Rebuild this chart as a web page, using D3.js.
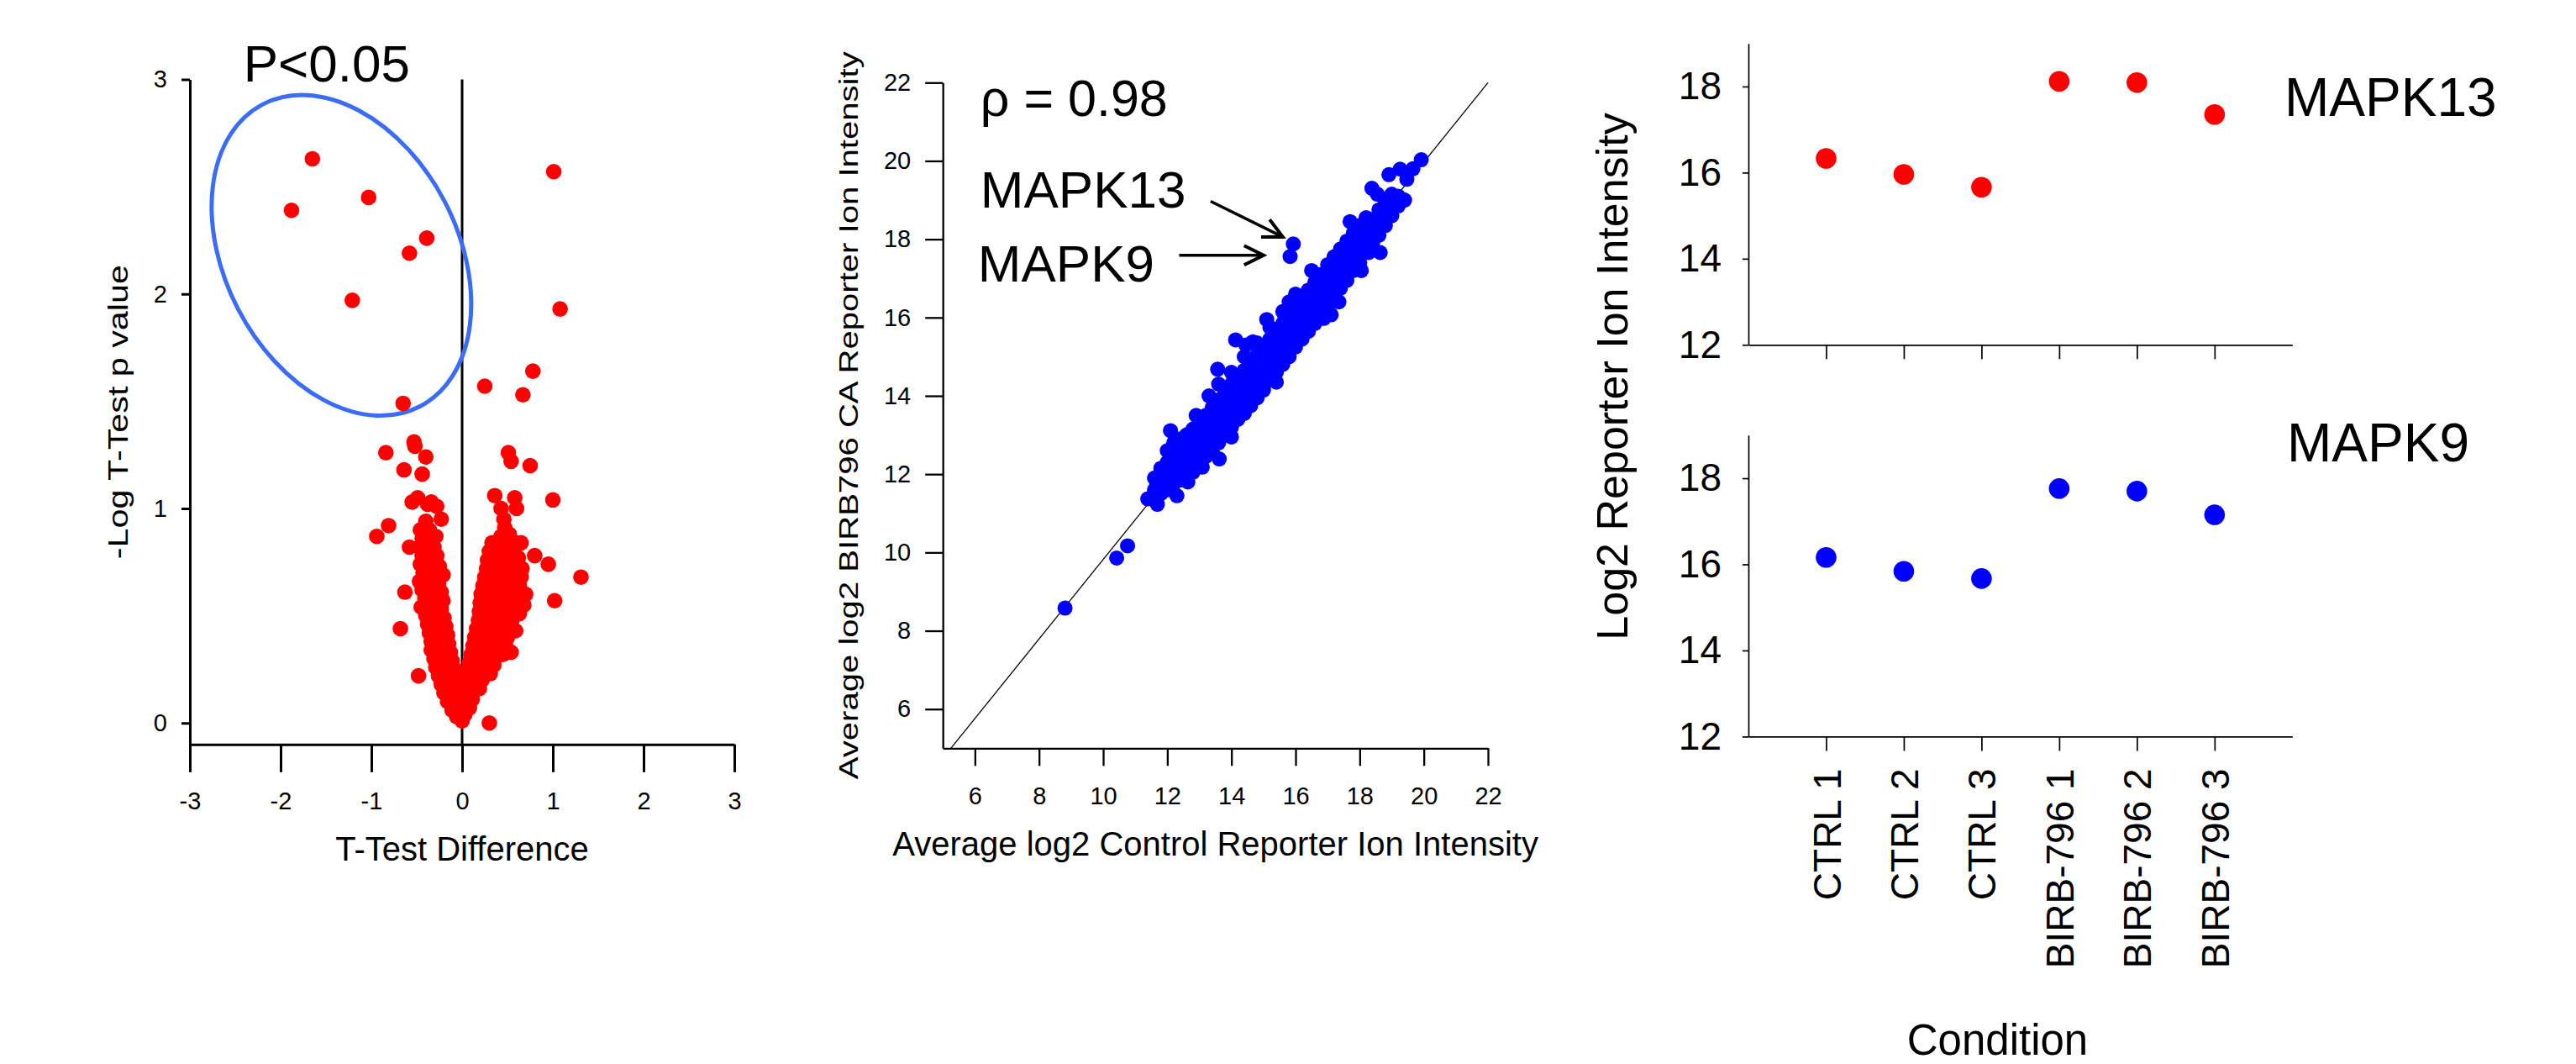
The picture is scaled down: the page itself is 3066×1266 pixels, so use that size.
<!DOCTYPE html>
<html>
<head>
<meta charset="utf-8">
<script src="https://cdn.jsdelivr.net/npm/d3@7"></script>
<style>
    html, body { margin: 0; padding: 0; background: #fff; }
    svg { display: block; font-family: "Liberation Sans", Arial, sans-serif; }
</style>
</head>
<body>
<div id="figure"></div>
<script>
    // ---- panel A: volcano plot, [T-test difference, -log p]
    var volcanoPoints = [
        // outliers
        [-1.65, 2.63], [-1.88, 2.39], [-1.03, 2.45], [-0.39, 2.26], [-0.58, 2.19], [-1.21, 1.97], [-0.65, 1.49],
        [1.01, 2.57], [1.08, 1.93], [0.25, 1.57], [0.78, 1.64], [0.67, 1.53],
        [-0.53, 1.31], [-0.52, 1.29], [-0.84, 1.26], [-0.40, 1.24], [-0.64, 1.18], [-0.44, 1.16],
        [0.51, 1.26], [0.54, 1.22], [0.75, 1.20],
        [0.36, 1.06], [0.58, 1.05], [0.60, 1.00], [1.00, 1.04],
        [-0.55, 1.03], [-0.49, 1.05], [-0.38, 1.02], [-0.34, 1.03], [-0.28, 1.01], [-0.23, 0.95], [-0.40, 0.94],
        [-0.81, 0.92], [-0.94, 0.87], [-0.58, 0.82],
        [0.80, 0.78], [0.95, 0.74], [1.31, 0.68], [1.02, 0.57],
        [-0.68, 0.44], [-0.48, 0.22], [0.30, 0.00],
        [0.63, 0.51], [0.54, 0.33], [0.59, 0.43], [0.70, 0.60], [0.65, 0.84],
        // left arm
        [-0.46, 0.90], [-0.36, 0.90], [-0.44, 0.86], [-0.34, 0.86], [-0.29, 0.87],
        [-0.47, 0.82], [-0.40, 0.81], [-0.31, 0.82], [-0.44, 0.78], [-0.36, 0.77], [-0.28, 0.78],
        [-0.46, 0.74], [-0.39, 0.73], [-0.31, 0.74], [-0.25, 0.73],
        [-0.43, 0.70], [-0.35, 0.69], [-0.27, 0.70], [-0.21, 0.69],
        [-0.47, 0.66], [-0.40, 0.65], [-0.32, 0.66], [-0.26, 0.65],
        [-0.44, 0.62], [-0.36, 0.61], [-0.29, 0.62], [-0.23, 0.61],
        [-0.63, 0.61], [-0.41, 0.58], [-0.33, 0.57], [-0.26, 0.58], [-0.21, 0.57],
        [-0.45, 0.54], [-0.37, 0.53], [-0.30, 0.54], [-0.23, 0.53],
        [-0.40, 0.50], [-0.33, 0.49], [-0.26, 0.50], [-0.20, 0.49],
        [-0.38, 0.46], [-0.30, 0.45], [-0.23, 0.46], [-0.18, 0.45],
        [-0.36, 0.42], [-0.28, 0.41], [-0.21, 0.42], [-0.16, 0.41],
        [-0.34, 0.38], [-0.27, 0.37], [-0.20, 0.38], [-0.15, 0.37],
        [-0.34, 0.34], [-0.26, 0.33], [-0.19, 0.34], [-0.13, 0.33],
        [-0.31, 0.30], [-0.24, 0.29], [-0.17, 0.30], [-0.11, 0.29],
        [-0.29, 0.26], [-0.22, 0.25], [-0.15, 0.26], [-0.08, 0.25],
        [-0.26, 0.22], [-0.19, 0.21], [-0.12, 0.22], [-0.06, 0.21],
        [-0.23, 0.18], [-0.16, 0.17], [-0.10, 0.18], [-0.04, 0.17],
        [-0.20, 0.14], [-0.13, 0.13], [-0.07, 0.14], [-0.02, 0.13],
        [-0.16, 0.10], [-0.10, 0.09], [-0.05, 0.10],
        [-0.11, 0.06], [-0.06, 0.05], [-0.02, 0.06], [-0.06, 0.03], [-0.01, 0.02],
        // right arm
        [0.43, 1.00], [0.46, 0.95], [0.47, 0.91], [0.43, 0.87], [0.52, 0.88],
        [0.33, 0.84], [0.41, 0.84], [0.50, 0.85], [0.60, 0.84],
        [0.30, 0.80], [0.38, 0.80], [0.47, 0.79], [0.56, 0.80],
        [0.28, 0.76], [0.36, 0.76], [0.44, 0.75], [0.53, 0.76], [0.62, 0.77],
        [0.27, 0.72], [0.34, 0.72], [0.42, 0.71], [0.50, 0.72], [0.59, 0.71], [0.66, 0.72],
        [0.25, 0.68], [0.32, 0.68], [0.40, 0.67], [0.48, 0.68], [0.57, 0.67], [0.65, 0.68],
        [0.23, 0.64], [0.30, 0.64], [0.38, 0.63], [0.46, 0.64], [0.55, 0.63], [0.63, 0.64],
        [0.21, 0.60], [0.28, 0.60], [0.36, 0.59], [0.44, 0.60], [0.52, 0.59], [0.61, 0.60],
        [0.20, 0.56], [0.27, 0.56], [0.35, 0.55], [0.43, 0.56], [0.51, 0.55], [0.59, 0.56], [0.68, 0.55],
        [0.19, 0.52], [0.26, 0.52], [0.33, 0.51], [0.41, 0.52], [0.49, 0.51], [0.57, 0.52],
        [0.18, 0.48], [0.24, 0.48], [0.32, 0.47], [0.40, 0.48], [0.47, 0.47], [0.55, 0.48],
        [0.16, 0.44], [0.22, 0.44], [0.30, 0.43], [0.38, 0.44], [0.46, 0.43], [0.52, 0.44],
        [0.14, 0.40], [0.21, 0.40], [0.28, 0.39], [0.36, 0.40], [0.43, 0.39], [0.50, 0.40],
        [0.12, 0.36], [0.19, 0.36], [0.26, 0.35], [0.34, 0.36], [0.41, 0.35], [0.48, 0.36],
        [0.10, 0.32], [0.17, 0.32], [0.24, 0.31], [0.31, 0.32], [0.38, 0.31], [0.45, 0.32],
        [0.08, 0.28], [0.15, 0.28], [0.22, 0.27], [0.28, 0.28], [0.35, 0.27],
        [0.06, 0.24], [0.12, 0.24], [0.19, 0.23], [0.25, 0.24], [0.31, 0.23],
        [0.04, 0.20], [0.10, 0.20], [0.16, 0.19], [0.22, 0.20],
        [0.02, 0.16], [0.08, 0.16], [0.13, 0.15], [0.19, 0.16],
        [0.01, 0.12], [0.06, 0.12], [0.11, 0.11],
        [0.00, 0.08], [0.04, 0.08], [0.08, 0.07], [0.00, 0.04], [0.03, 0.04], [0.00, 0.01]
    ];
    var volcanoXTicks = [-3, -2, -1, 0, 1, 2, 3];
    var volcanoYTicks = [0, 1, 2, 3];

    // ---- panel B: control vs BIRB796, [control, BIRB796]
    var scatterPoints = [
        [8.81, 8.58], [10.42, 9.86], [10.76, 10.17], [15.93, 17.88], [15.83, 17.56],
        [19.92, 20.03], [18.91, 19.65], [19.26, 19.79], [19.47, 19.53], [19.66, 19.80], [18.38, 19.30],
        [19.36, 19.01], [18.64, 17.66], [18.28, 17.66], [17.11, 16.07], [16.88, 15.98], [14.13, 15.43],
        [13.57, 14.68], [13.62, 12.39], [13.09, 12.18], [12.10, 13.11], [11.39, 11.37], [11.69, 11.23],
        [12.64, 11.80], [14.67, 15.38], [16.31, 15.72],
        [12.9, 13.5], [13.3, 14.0], [14.45, 15.3], [15.1, 15.95], [16.5, 17.2], [17.35, 16.4],
        [18.05, 17.2], [12.3, 11.45], [14.0, 12.95], [15.4, 14.35], [17.7, 18.45], [18.55, 19.15],
        [11.6, 11.6], [11.6, 11.9], [11.8, 11.5], [11.8, 11.85], [11.8, 12.15],
        [12.0, 11.6], [12.0, 11.9], [12.0, 12.3], [12.0, 12.6],
        [12.2, 11.75], [12.2, 12.1], [12.2, 12.45], [12.2, 12.8],
        [12.4, 11.85], [12.4, 12.2], [12.4, 12.55], [12.4, 12.9],
        [12.6, 11.9], [12.6, 12.3], [12.6, 12.65], [12.6, 13.0],
        [12.8, 12.05], [12.8, 12.45], [12.8, 12.8], [12.8, 13.15],
        [13.0, 12.25], [13.0, 12.6], [13.0, 12.95], [13.0, 13.35],
        [13.2, 12.45], [13.2, 12.8], [13.2, 13.15], [13.2, 13.5],
        [13.4, 12.6], [13.4, 12.95], [13.4, 13.3], [13.4, 13.7],
        [13.6, 12.8], [13.6, 13.15], [13.6, 13.5], [13.6, 13.9], [13.6, 14.3],
        [13.8, 13.0], [13.8, 13.35], [13.8, 13.7], [13.8, 14.1],
        [14.0, 13.2], [14.0, 13.55], [14.0, 13.9], [14.0, 14.3], [14.0, 14.6],
        [14.2, 13.4], [14.2, 13.75], [14.2, 14.1], [14.2, 14.45],
        [14.4, 13.55], [14.4, 13.9], [14.4, 14.3], [14.4, 14.65], [14.4, 15.0],
        [14.6, 13.75], [14.6, 14.1], [14.6, 14.5], [14.6, 14.85],
        [14.8, 13.95], [14.8, 14.3], [14.8, 14.7], [14.8, 15.05], [14.8, 15.35],
        [15.0, 14.15], [15.0, 14.5], [15.0, 14.9], [15.0, 15.25],
        [15.2, 14.4], [15.2, 14.75], [15.2, 15.1], [15.2, 15.45], [15.2, 15.75],
        [15.4, 14.6], [15.4, 14.95], [15.4, 15.3], [15.4, 15.65],
        [15.6, 14.8], [15.6, 15.15], [15.6, 15.5], [15.6, 15.85], [15.6, 16.15],
        [15.8, 15.0], [15.8, 15.35], [15.8, 15.7], [15.8, 16.05], [15.8, 16.4],
        [16.0, 15.25], [16.0, 15.6], [16.0, 15.95], [16.0, 16.3], [16.0, 16.6],
        [16.2, 15.45], [16.2, 15.8], [16.2, 16.15], [16.2, 16.5],
        [16.4, 15.65], [16.4, 16.0], [16.4, 16.35], [16.4, 16.7],
        [16.6, 15.85], [16.6, 16.2], [16.6, 16.55], [16.6, 16.9],
        [16.8, 16.05], [16.8, 16.4], [16.8, 16.75], [16.8, 17.1],
        [17.0, 16.3], [17.0, 16.65], [17.0, 17.0], [17.0, 17.35],
        [17.2, 16.5], [17.2, 16.85], [17.2, 17.2], [17.2, 17.55],
        [17.4, 16.75], [17.4, 17.05], [17.4, 17.4], [17.4, 17.75],
        [17.6, 16.95], [17.6, 17.3], [17.6, 17.6], [17.6, 17.95],
        [17.8, 17.2], [17.8, 17.5], [17.8, 17.85], [17.8, 18.15],
        [18.0, 17.4], [18.0, 17.7], [18.0, 18.05], [18.0, 18.35],
        [18.2, 17.7], [18.2, 17.95], [18.2, 18.25], [18.2, 18.55],
        [18.4, 17.9], [18.4, 18.2], [18.4, 18.5],
        [18.6, 18.1], [18.6, 18.45], [18.6, 18.75],
        [18.8, 18.35], [18.8, 18.65], [18.8, 18.95],
        [19.0, 18.6], [19.0, 18.9], [19.0, 19.15],
        [19.2, 18.85], [19.2, 19.1], [19.4, 19.0]
    ];
    var scatterTicks = [6, 8, 10, 12, 14, 16, 18, 20, 22];
    var fitLine = [[5.25, 5], [22, 22]];

    // ---- panel C: per-condition intensities
    var conditions = ["CTRL 1", "CTRL 2", "CTRL 3", "BIRB-796 1", "BIRB-796 2", "BIRB-796 3"];
    var mapk13Values = [16.33, 15.96, 15.66, 18.12, 18.09, 17.35];
    var mapk9Values = [16.16, 15.84, 15.67, 17.76, 17.70, 17.15];
    var intensityTicks = [12, 14, 16, 18];

    var width = 3066, height = 1266;
    var font = "'Liberation Sans', Arial, sans-serif";

    const svg = d3.select("#figure").append("svg")
        .attr("width", width)
        .attr("height", height)
        .attr("viewBox", [0, 0, width, height]);

    svg.append("rect").attr("width", width).attr("height", height).attr("fill", "#fff");

    function styleAxis(g, lineWidth, fontSize) {
        g.attr("font-family", font).attr("font-size", fontSize);
        g.select(".domain").attr("stroke", "#000").attr("stroke-width", lineWidth);
        g.selectAll(".tick line").attr("stroke", "#000").attr("stroke-width", lineWidth);
        g.selectAll(".tick text").attr("fill", "#000");
    }

    // =========== panel A
    const xA = d3.scaleLinear().domain([-3, 3]).range([226, 874]);
    const yA = d3.scaleLinear().domain([-0.1, 3]).range([885.8, 94.5]);

    svg.append("g")
        .attr("transform", `translate(0,${yA(-0.1)})`)
        .call(d3.axisBottom(xA).tickValues(volcanoXTicks).tickSize(33).tickPadding(24)
            .tickSizeOuter(0).tickFormat(d => String(d)))
        .call(g => styleAxis(g, 3, 29));

    svg.append("g")
        .attr("transform", `translate(${xA(-3)},0)`)
        .call(d3.axisLeft(yA).tickValues(volcanoYTicks).tickSize(10).tickPadding(17)
            .tickSizeOuter(0).tickFormat(d => String(d)))
        .call(g => styleAxis(g, 3, 29));

    // zero line
    svg.append("line")
        .attr("x1", xA(0)).attr("x2", xA(0))
        .attr("y1", yA(3)).attr("y2", yA(-0.1))
        .attr("stroke", "#000").attr("stroke-width", 3);

    // significance ellipse
    svg.append("ellipse")
        .attr("transform", `translate(${xA(-1.33)},${yA(2.18)}) rotate(62.5)`)
        .attr("rx", 202.6).attr("ry", 138.6)
        .attr("fill", "none")
        .attr("stroke", "#3b6cf5")
        .attr("stroke-width", 5);

    svg.append("g").selectAll("circle")
        .data(volcanoPoints)
        .enter().append("circle")
        .attr("cx", d => xA(d[0]))
        .attr("cy", d => yA(d[1]))
        .attr("r", 9.3)
        .attr("fill", "#ff0000");

    svg.append("text")
        .attr("x", xA(-2.41)).attr("y", yA(2.99))
        .attr("font-family", font).attr("font-size", 62)
        .text("P<0.05");

    svg.append("text")
        .attr("x", xA(0)).attr("y", 1024)
        .attr("text-anchor", "middle")
        .attr("font-family", font).attr("font-size", 40)
        .text("T-Test Difference");

    svg.append("text")
        .attr("transform", `translate(151.6,${(yA(3) + yA(-0.1)) / 2}) rotate(-90)`)
        .attr("text-anchor", "middle")
        .attr("font-family", font).attr("font-size", 33)
        .attr("textLength", 350).attr("lengthAdjust", "spacingAndGlyphs")
        .text("-Log T-Test p value");

    // =========== panel B
    const xB = d3.scaleLinear().domain([5, 22]).range([1122.2, 1771]);
    const yB = d3.scaleLinear().domain([5, 22]).range([890.3, 98.3]);

    svg.append("g")
        .attr("transform", `translate(0,${yB(5)})`)
        .call(d3.axisBottom(xB).tickValues(scatterTicks).tickSize(21).tickPadding(25).tickSizeOuter(0))
        .call(g => styleAxis(g, 2.3, 29));

    svg.append("g")
        .attr("transform", `translate(${xB(5)},0)`)
        .call(d3.axisLeft(yB).tickValues(scatterTicks).tickSize(21).tickPadding(17).tickSizeOuter(0))
        .call(g => styleAxis(g, 2.3, 29));

    svg.append("path")
        .datum(fitLine)
        .attr("d", d3.line().x(d => xB(d[0])).y(d => yB(d[1])))
        .attr("stroke", "#000").attr("stroke-width", 1.3).attr("fill", "none");

    svg.append("g").selectAll("circle")
        .data(scatterPoints)
        .enter().append("circle")
        .attr("cx", d => xB(d[0]))
        .attr("cy", d => yB(d[1]))
        .attr("r", 9)
        .attr("fill", "#0000ff");

    svg.append("text")
        .attr("x", xB(6.17)).attr("y", yB(21.15))
        .attr("font-family", font).attr("font-size", 61)
        .text("ρ = 0.98");
    svg.append("text")
        .attr("x", xB(6.17)).attr("y", yB(18.8))
        .attr("font-family", font).attr("font-size", 62)
        .text("MAPK13");
    svg.append("text")
        .attr("x", xB(6.09)).attr("y", yB(16.92))
        .attr("font-family", font).attr("font-size", 62)
        .text("MAPK9");

    // open arrow heads
    svg.append("defs").append("marker")
        .attr("id", "arrow")
        .attr("markerUnits", "userSpaceOnUse")
        .attr("markerWidth", 30).attr("markerHeight", 30)
        .attr("viewBox", "-22 -12 26 24")
        .attr("refX", 0).attr("refY", 0)
        .attr("orient", "auto")
        .append("path")
        .attr("d", "M-20,-10L0,0L-20,10")
        .attr("fill", "none").attr("stroke", "#000").attr("stroke-width", 3.5);

    var arrows = [[[13.35, 18.97], [15.6, 18.06]], [[12.37, 17.59], [15.0, 17.59]]];
    svg.append("g").selectAll("line")
        .data(arrows)
        .enter().append("line")
        .attr("x1", d => xB(d[0][0])).attr("y1", d => yB(d[0][1]))
        .attr("x2", d => xB(d[1][0])).attr("y2", d => yB(d[1][1]))
        .attr("stroke", "#000").attr("stroke-width", 3.5)
        .attr("marker-end", "url(#arrow)");

    svg.append("text")
        .attr("x", (xB(5) + xB(22)) / 2).attr("y", 1018.3)
        .attr("text-anchor", "middle")
        .attr("font-family", font).attr("font-size", 40)
        .text("Average log2 Control Reporter Ion Intensity");

    svg.append("text")
        .attr("transform", `translate(1020.7,${(yB(5) + yB(22)) / 2}) rotate(-90)`)
        .attr("text-anchor", "middle")
        .attr("font-family", font).attr("font-size", 31)
        .attr("textLength", 866).attr("lengthAdjust", "spacingAndGlyphs")
        .text("Average log2 BIRB796 CA Reporter Ion Intensity");

    // =========== panel C
    const xC = d3.scaleLinear().domain([0, 7]).range([2081, 2728.3]);
    const panels = [
        { values: mapk13Values, color: "#ff0000", label: "MAPK13", y: d3.scaleLinear().domain([12, 19]).range([410.3, 51.7]), lx: 2719, ly: 137.7 },
        { values: mapk9Values, color: "#0000ff", label: "MAPK9", y: d3.scaleLinear().domain([12, 19]).range([876.4, 517.8]), lx: 2722, ly: 549.3 }
    ];

    panels.forEach((p, i) => {
        const xAxis = svg.append("g")
            .attr("transform", `translate(0,${p.y(12)})`)
            .call(d3.axisBottom(xC).tickValues(d3.range(1, conditions.length + 1)).tickSize(17)
                .tickSizeOuter(0).tickFormat(d => i === 1 ? conditions[d - 1] : ""))
            .call(g => styleAxis(g, 1.7, 46));

        if (i === 1) {
            xAxis.selectAll(".tick text")
                .attr("transform", "rotate(-90)")
                .attr("text-anchor", "end")
                .attr("x", -38)
                .attr("y", 0)
                .attr("dy", "0.36em");
        }

        svg.append("g")
            .attr("transform", `translate(${xC(0)},0)`)
            .call(d3.axisLeft(p.y).tickValues(intensityTicks).tickSize(7).tickPadding(25)
                .tickSizeOuter(0).tickFormat(d => String(d)))
            .call(g => styleAxis(g, 1.7, 46));

        svg.append("g").selectAll("circle")
            .data(p.values)
            .enter().append("circle")
            .attr("cx", (d, j) => xC(j + 1))
            .attr("cy", d => p.y(d))
            .attr("r", 12.3)
            .attr("fill", p.color);

        svg.append("text")
            .attr("x", p.lx).attr("y", p.ly)
            .attr("font-family", font).attr("font-size", 64)
            .text(p.label);
    });

    svg.append("text")
        .attr("x", 2377.5).attr("y", 1255)
        .attr("text-anchor", "middle")
        .attr("font-family", font).attr("font-size", 51)
        .text("Condition");

    svg.append("text")
        .attr("transform", "translate(1937,448) rotate(-90)")
        .attr("text-anchor", "middle")
        .attr("font-family", font).attr("font-size", 52)
        .text("Log2 Reporter Ion Intensity");
</script>
</body>
</html>
